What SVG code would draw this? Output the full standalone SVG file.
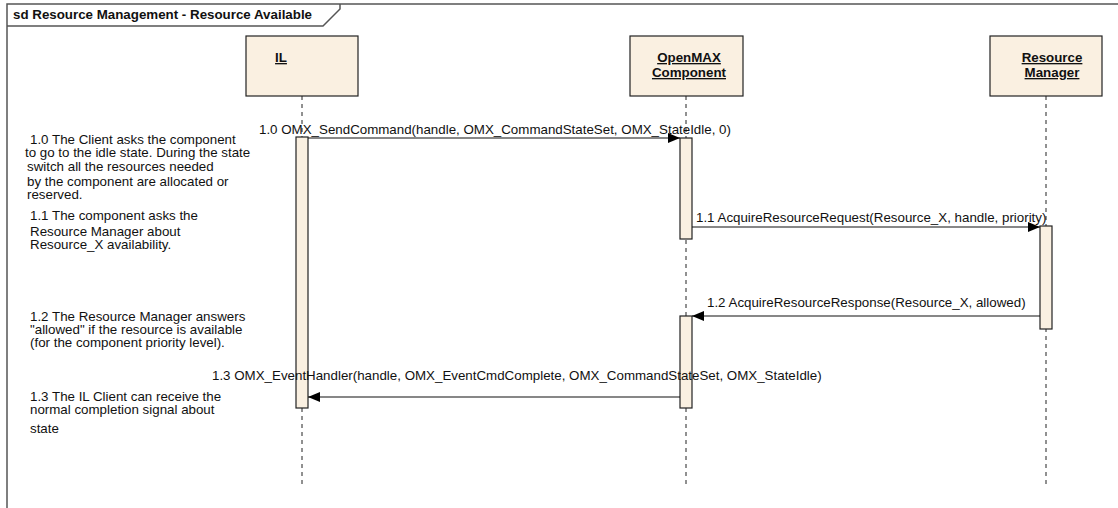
<svg xmlns="http://www.w3.org/2000/svg" width="1118" height="508" viewBox="0 0 1118 508">
<defs>
<style>
.t{font-family:"Liberation Sans",Arial,sans-serif;font-size:13.33px;fill:#111}
.b{font-weight:bold;text-decoration:underline}
.box{fill:#FAF0E1;stroke:#222;stroke-width:1.2}
.act{fill:#FAF0E1;stroke:#222;stroke-width:1.2}
.life{stroke:#222;stroke-width:1;stroke-dasharray:4 4;fill:none}
.msg{stroke:#111;stroke-width:1.2;fill:none}
.frame{stroke:#555;stroke-width:1.5;fill:none}
</style>
<marker id="ah" viewBox="0 0 12 10" refX="12" refY="5" markerWidth="12" markerHeight="10" markerUnits="userSpaceOnUse" orient="auto">
<path d="M0,0 L12,5 L0,10 Z" fill="#000"/>
</marker>
</defs>
<rect width="1118" height="508" fill="#fff"/>
<g id="frame">
<path class="frame" d="M7,508 V4 H1118"/>
<polyline class="frame" points="7,26 323,26 340,9 340,4"/>
<text class="t" x="13" y="19" font-weight="bold">sd Resource Management - Resource Available</text>
</g>
<g id="lifelines">
<line class="life" x1="302" y1="96" x2="302" y2="487"/>
<line class="life" x1="686" y1="96" x2="686" y2="487"/>
<line class="life" x1="1046" y1="96" x2="1046" y2="487"/>
</g>
<g id="IL">
<rect class="box" x="246" y="36" width="112" height="60"/>
<text class="t b" x="281" y="62" text-anchor="middle">IL</text>
<rect class="act" x="296" y="137" width="12" height="271"/>
</g>
<g id="OpenMAXComponent">
<rect class="box" x="630" y="36" width="113" height="60"/>
<text class="t b" x="689" y="62" text-anchor="middle">OpenMAX</text>
<text class="t b" x="689" y="77" text-anchor="middle">Component</text>
<rect class="act" x="680" y="138" width="12" height="101"/>
<rect class="act" x="680" y="316" width="12" height="92"/>
</g>
<g id="ResourceManager">
<rect class="box" x="990" y="36" width="112" height="60"/>
<text class="t b" x="1052" y="62" text-anchor="middle">Resource</text>
<text class="t b" x="1052" y="77" text-anchor="middle">Manager</text>
<rect class="act" x="1040" y="226" width="12" height="103"/>
</g>
<g id="connectors">
<line class="msg" x1="308" y1="138" x2="680" y2="138" marker-end="url(#ah)"/>
<line class="msg" x1="692" y1="227" x2="1040" y2="227" marker-end="url(#ah)"/>
<line class="msg" x1="1040" y1="316" x2="692" y2="316" marker-end="url(#ah)"/>
<line class="msg" x1="680" y1="397" x2="308" y2="397" marker-end="url(#ah)"/>
<text class="t" x="259" y="134">1.0 OMX_SendCommand(handle, OMX_CommandStateSet, OMX_StateIdle, 0)</text>
<text class="t" x="696" y="222">1.1 AcquireResourceRequest(Resource_X, handle, priority)</text>
<text class="t" x="707" y="307">1.2 AcquireResourceResponse(Resource_X, allowed)</text>
<text class="t" x="212" y="380">1.3 OMX_EventHandler(handle, OMX_EventCmdComplete, OMX_CommandStateSet, OMX_StateIdle)</text>
</g>
<g id="notes">
<text class="t" x="30" y="144">1.0 The Client asks the component</text>
<text class="t" x="25" y="157">to go to the idle state. During the state</text>
<text class="t" x="27" y="171">switch all the resources needed</text>
<text class="t" x="27" y="186">by the component are allocated or</text>
<text class="t" x="27" y="199">reserved.</text>
<text class="t" x="30" y="220">1.1 The component asks the</text>
<text class="t" x="30" y="236">Resource Manager about</text>
<text class="t" x="30" y="249">Resource_X availability.</text>
<text class="t" x="30" y="321">1.2 The Resource Manager answers</text>
<text class="t" x="30" y="334">"allowed" if the resource is available</text>
<text class="t" x="30" y="347">(for the component priority level).</text>
<text class="t" x="30" y="401">1.3 The IL Client can receive the</text>
<text class="t" x="30" y="414">normal completion signal about</text>
<text class="t" x="30" y="433">state</text>
</g>
</svg>
